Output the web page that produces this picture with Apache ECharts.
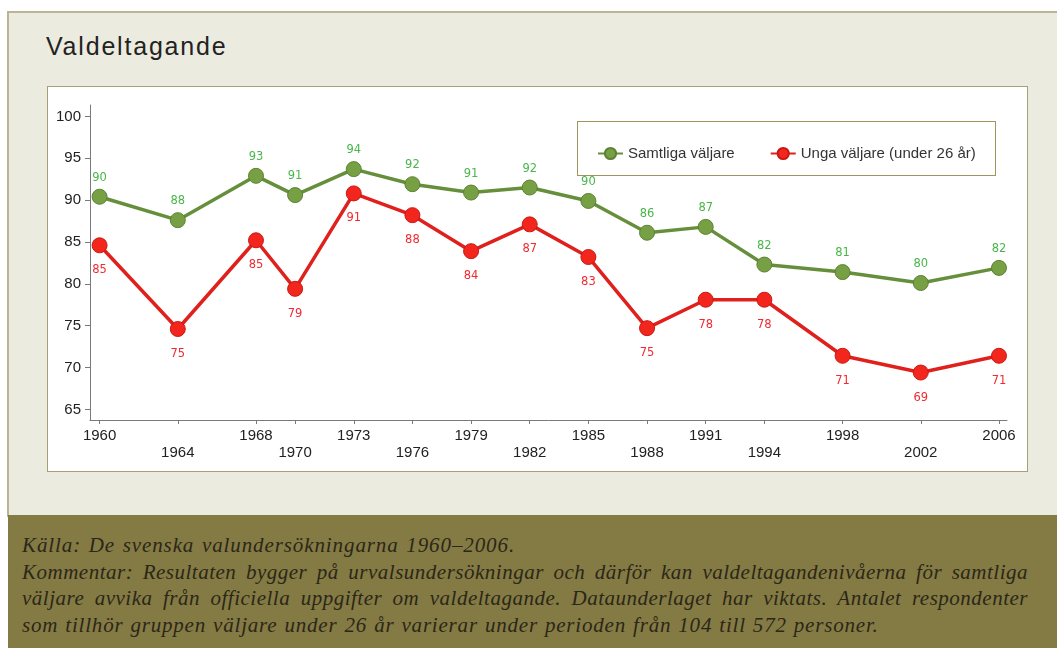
<!DOCTYPE html>
<html>
<head>
<meta charset="utf-8">
<script src="https://cdn.jsdelivr.net/npm/echarts@6.0.0/dist/echarts.min.js"></script>
<style>
    html, body { margin: 0; padding: 0; background: #fff; }
    .page { position: relative; width: 1057px; height: 648px; overflow: hidden; }
    .panel {
        position: absolute; left: 7px; top: 11px; width: 1060px; height: 504px;
        background: #ecebdf; border-top: 2px solid #bab394; border-left: 2px solid #bab394;
    }
    .note-band { position: absolute; left: 8px; top: 515px; width: 1049px; height: 133px; background: #847a44; }
    .plot-box {
        position: absolute; left: 47px; top: 86px; width: 979px; height: 384px;
        background: #fff; border: 1.5px solid #a99f76;
    }
    .legend-box {
        position: absolute; left: 577px; top: 121px; width: 417px; height: 53px;
        background: #fff; border: 1px solid #a0955f;
    }
    .title {
        position: absolute; left: 46px; top: 34px; margin: 0;
        font: 25px/25px "Liberation Sans", Arial, sans-serif; letter-spacing: 1.8px; color: #222;
    }
    .note {
        position: absolute; left: 22px; top: 532px; width: 1006px;
        font: italic 21px/26.7px "Liberation Serif", "Times New Roman", serif;
        color: #2b2718;
    }
    .note div { white-space: nowrap; }
    .note .first { letter-spacing: 0.9px; word-spacing: 1.5px; }
    .note .just { text-align: justify; text-align-last: justify; white-space: normal; letter-spacing: 0.5px; }
    .note .last { letter-spacing: 0.8px; word-spacing: 1px; }
    #chart { position: absolute; left: 0; top: 0; width: 1057px; height: 648px; }
</style>
</head>
<body>
<div class="page">
    <div class="panel"></div>
    <div class="note-band"></div>
    <div class="plot-box"></div>
    <div class="legend-box"></div>
    <h1 class="title">Valdeltagande</h1>
    <div class="note">
        <div class="first">Källa: De svenska valundersökningarna 1960–2006.</div>
        <div class="just">Kommentar: Resultaten bygger på urvalsundersökningar och därför kan valdeltagandenivåerna för samtliga</div>
        <div class="just">väljare avvika från officiella uppgifter om valdeltagande. Dataunderlaget har viktats. Antalet respondenter</div>
        <div class="last">som tillhör gruppen väljare under 26 år varierar under perioden från 104 till 572 personer.</div>
    </div>
    <div id="chart"></div>
</div>
<script>
// valår (x-axeln är proportionell mot året)
const years = [1960, 1964, 1968, 1970, 1973, 1976, 1979, 1982, 1985, 1988, 1991, 1994, 1998, 2002, 2006];

// andel som röstade, procent
const samtliga = [90.4, 87.6, 92.9, 90.6, 93.7, 91.9, 90.9, 91.5, 89.9, 86.1, 86.8, 82.3, 81.4, 80.1, 81.9];
const unga = [84.6, 74.6, 85.2, 79.4, 90.8, 88.2, 83.9, 87.1, 83.2, 74.7, 78.1, 78.1, 71.4, 69.4, 71.4];

const yTicks = [65, 70, 75, 80, 85, 90, 95, 100];
const seriesNames = ['Samtliga väljare', 'Unga väljare (under 26 år)'];

const chart = echarts.init(document.getElementById('chart'), null, {renderer: 'canvas'});

const axisColor = '#7a7a7a';
const labelFont = '"Liberation Sans", Arial, sans-serif';

chart.setOption({
    backgroundColor: 'transparent',
    animation: false,
    grid: {left: 90, right: 50, top: 105, bottom: 228},
    legend: {
        data: seriesNames,
        left: 592,
        top: 141,
        itemWidth: 25,
        itemHeight: 14,
        itemGap: 35,
        textStyle: {fontSize: 15, color: '#333', fontFamily: labelFont}
    },
    xAxis: {
        type: 'value',
        min: 1959.51,
        max: 2006.41,
        axisLine: {lineStyle: {color: axisColor, width: 1}},
        axisTick: {customValues: years, length: 4, lineStyle: {color: axisColor}},
        splitLine: {show: false},
        axisLabel: {
            customValues: years,
            margin: 7,
            fontSize: 15,
            lineHeight: 17,
            color: '#222',
            fontFamily: labelFont,
            // varannan etikett på andra raden
            formatter: function (v) {
                const i = years.indexOf(Math.round(v));
                return i % 2 === 1 ? '\n' + Math.round(v) : String(Math.round(v));
            }
        }
    },
    yAxis: {
        type: 'value',
        min: 63.73,
        max: 101.36,
        axisLine: {show: true, lineStyle: {color: axisColor, width: 1}},
        axisTick: {show: true, customValues: yTicks, length: 5, lineStyle: {color: axisColor}},
        splitLine: {show: false},
        axisLabel: {
            customValues: yTicks,
            margin: 9,
            fontSize: 15,
            color: '#222',
            fontFamily: labelFont
        }
    },
    series: [
        {
            name: seriesNames[0],
            type: 'line',
            data: years.map((y, i) => [y, samtliga[i]]),
            symbol: 'circle',
            symbolSize: 15,
            lineStyle: {color: '#668f3c', width: 3.5},
            itemStyle: {color: '#77a044', borderColor: '#5a8234', borderWidth: 1},
            label: {
                show: true,
                position: 'top',
                distance: 5,
                fontSize: 11.5,
                fontFamily: '"DejaVu Sans", sans-serif',
                color: '#49b649',
                formatter: p => Math.round(p.value[1])
            },
            z: 3
        },
        {
            name: seriesNames[1],
            type: 'line',
            data: years.map((y, i) => [y, unga[i]]),
            symbol: 'circle',
            symbolSize: 15,
            lineStyle: {color: '#e0201c', width: 3.5},
            itemStyle: {color: '#f3261e', borderColor: '#c81812', borderWidth: 1},
            label: {
                show: true,
                position: 'bottom',
                distance: 11,
                fontSize: 11.5,
                fontFamily: '"DejaVu Sans", sans-serif',
                color: '#f02a30',
                formatter: p => Math.round(p.value[1])
            },
            z: 4
        }
    ]
});
</script>
</body>
</html>
